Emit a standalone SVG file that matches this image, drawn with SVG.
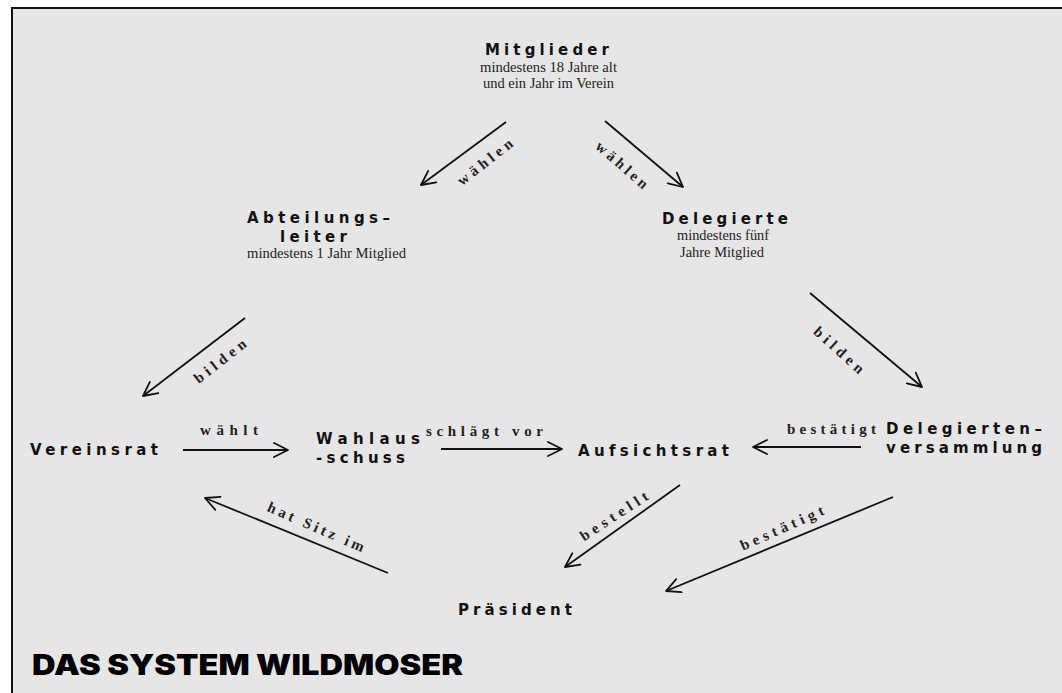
<svg xmlns="http://www.w3.org/2000/svg" width="1062" height="693" viewBox="0 0 1062 693">
<defs>
<marker id="ah" viewBox="0 0 16 16" refX="15" refY="8" markerWidth="16" markerHeight="16" markerUnits="userSpaceOnUse" orient="auto">
<path d="M1,1 L15,8 L1,15" fill="none" stroke="#111" stroke-width="1.8" stroke-linecap="round" stroke-linejoin="round"/>
</marker>
<style>
.n{font-family:"DejaVu Sans","Liberation Sans",sans-serif;font-weight:bold;font-size:15px;fill:#111}
.s{font-family:"Liberation Serif","Times New Roman",serif;font-size:14.5px;fill:#222}
.l{font-family:"Liberation Serif","Times New Roman",serif;font-weight:bold;font-size:15px;fill:#222}
.c{stroke:#111;stroke-width:1.8;fill:none;marker-end:url(#ah)}
.t{font-family:Inter,"DejaVu Sans",sans-serif;font-weight:900;font-size:28px;fill:#000}
</style>
</defs>
<rect x="0" y="0" width="1062" height="693" fill="#ffffff"/>
<rect x="12" y="8" width="1100" height="720" fill="#e6e6e6" stroke="#111" stroke-width="2"/>

<g id="connectors">
<line class="c" x1="506" y1="122" x2="421" y2="185"/>
<line class="c" x1="605" y1="121" x2="683" y2="187"/>
<line class="c" x1="245" y1="318" x2="143" y2="396"/>
<line class="c" x1="810" y1="293" x2="922" y2="387"/>
<line class="c" x1="183" y1="450" x2="288" y2="450"/>
<line class="c" x1="441" y1="449" x2="562" y2="449"/>
<line class="c" x1="861" y1="447" x2="753" y2="447"/>
<line class="c" x1="388" y1="573" x2="205" y2="498"/>
<line class="c" x1="680" y1="485" x2="565" y2="567"/>
<line class="c" x1="893" y1="497" x2="666" y2="591"/>
<text class="l" transform="translate(485,162) rotate(-38)" x="0" y="5" text-anchor="middle" textLength="66" lengthAdjust="spacing">wählen</text>
<text class="l" transform="translate(622,165) rotate(41)" x="0" y="5" text-anchor="middle" textLength="64" lengthAdjust="spacing">wählen</text>
<text class="l" transform="translate(220,361) rotate(-38)" x="0" y="5" text-anchor="middle" textLength="62" lengthAdjust="spacing">bilden</text>
<text class="l" transform="translate(839,350) rotate(42)" x="0" y="5" text-anchor="middle" textLength="62" lengthAdjust="spacing">bilden</text>
<text class="l" x="200" y="435" textLength="58" lengthAdjust="spacing">wählt</text>
<text class="l" x="426" y="436" textLength="117" lengthAdjust="spacing">schlägt vor</text>
<text class="l" x="787" y="434" textLength="89" lengthAdjust="spacing">bestätigt</text>
<text class="l" transform="translate(316,527) rotate(23.5)" x="0" y="5" text-anchor="middle" textLength="104" lengthAdjust="spacing">hat Sitz im</text>
<text class="l" transform="translate(614,516) rotate(-33)" x="0" y="5" text-anchor="middle" textLength="78" lengthAdjust="spacing">bestellt</text>
<text class="l" transform="translate(782,528) rotate(-24)" x="0" y="5" text-anchor="middle" textLength="90" lengthAdjust="spacing">bestätigt</text>
</g>

<g id="mitglieder">
<text class="n" x="485" y="55" textLength="124" lengthAdjust="spacing">Mitglieder</text>
<text class="s" x="548.5" y="72" text-anchor="middle" textLength="137" lengthAdjust="spacingAndGlyphs">mindestens 18 Jahre alt</text>
<text class="s" x="548.5" y="88" text-anchor="middle" textLength="131" lengthAdjust="spacingAndGlyphs">und ein Jahr im Verein</text>
</g>

<g id="abteilungsleiter">
<text class="n" x="247" y="223" textLength="143" lengthAdjust="spacing">Abteilungs–</text>
<text class="n" x="280" y="242" textLength="67" lengthAdjust="spacing">leiter</text>
<text class="s" x="247" y="258" textLength="159" lengthAdjust="spacingAndGlyphs">mindestens 1 Jahr Mitglied</text>
</g>

<g id="delegierte">
<text class="n" x="662" y="224" textLength="126" lengthAdjust="spacing">Delegierte</text>
<text class="s" x="677" y="240" textLength="92" lengthAdjust="spacingAndGlyphs">mindestens fünf</text>
<text class="s" x="680" y="257" textLength="84" lengthAdjust="spacingAndGlyphs">Jahre Mitglied</text>
</g>

<g id="vereinsrat">
<text class="n" x="30" y="455" textLength="128" lengthAdjust="spacing">Vereinsrat</text>
</g>

<g id="wahlausschuss">
<text class="n" x="316" y="444" textLength="104" lengthAdjust="spacing">Wahlaus</text>
<text class="n" x="316" y="463" textLength="89" lengthAdjust="spacing">-schuss</text>
</g>

<g id="aufsichtsrat">
<text class="n" x="578" y="456" textLength="151" lengthAdjust="spacing">Aufsichtsrat</text>
</g>

<g id="delegiertenversammlung">
<text class="n" x="886" y="434" textLength="156" lengthAdjust="spacing">Delegierten–</text>
<text class="n" x="886" y="453" textLength="156" lengthAdjust="spacing">versammlung</text>
</g>

<g id="praesident">
<text class="n" x="458" y="615" textLength="114" lengthAdjust="spacing">Präsident</text>
</g>

<g id="title">
<text class="t" x="32" y="675" textLength="431" lengthAdjust="spacingAndGlyphs">DAS SYSTEM WILDMOSER</text>
</g>
</svg>
